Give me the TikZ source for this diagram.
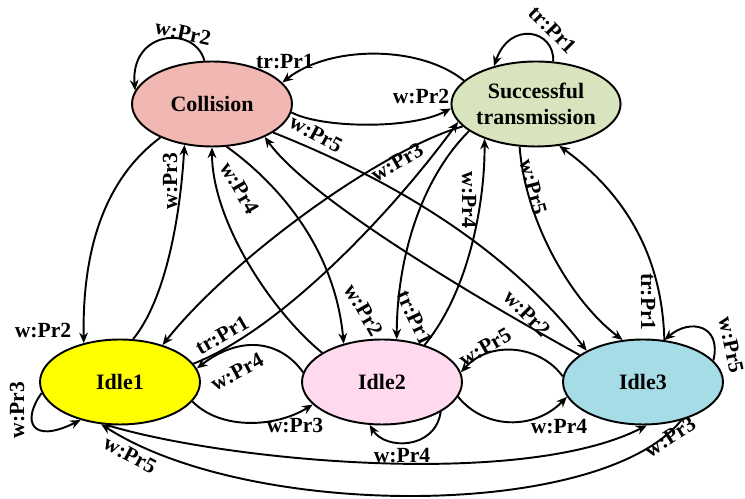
\documentclass[tikz,border=0pt]{standalone}
\usepackage{fontspec}
\setmainfont{Liberation Serif}
\usepackage{xcolor}
\definecolor{State-red}{RGB}{241, 184, 179}
\definecolor{State-green}{RGB}{215, 228, 189}
\definecolor{State-yellow}{RGB}{255, 255, 0}
\definecolor{State-pink}{RGB}{255, 218, 238}
\definecolor{State-blue}{RGB}{165, 220, 230}
\usetikzlibrary{arrows.meta,shapes.geometric}

\begin{document}
\begin{tikzpicture} [
    x=0.02cm, y=-0.02cm, line width=1.1pt, >={Stealth[length=6pt,width=5pt]},
    font=\fontsize{12.3}{14}\selectfont\bfseries,
    state/.style = {ellipse,draw=black,minimum width=3.2cm,minimum height=1.7cm,inner sep=0pt,align=center,font=\fontsize{12.5}{14.5}\selectfont\bfseries},
    lbl/.style = {inner sep=0pt}
    ]

    \useasboundingbox (0,0) rectangle (745,499);

    \def \xarray{{120, 382, 643}}
    \def \yarray{{104, 382}}

    \node (col) [state,fill=State-red] at (212, \yarray[0]) {Collision};
    \node (suc) [state,fill=State-green] at (536, \yarray[0]) {Successful\\transmission};

    \node (i1) [state,fill=State-yellow] at (\xarray[0], \yarray[1]) {Idle1};
    \node (i2) [state,fill=State-pink] at (\xarray[1], \yarray[1]) {Idle2};
    \node (i3) [state,fill=State-blue] at (\xarray[2], \yarray[1]) {Idle3};

    \draw[->] (col.100) .. controls (195,25) and (130,30) .. (col.170);
    \draw[->] (suc.162) .. controls (420,45) and (330,45) .. (col.17);
    \draw[->] (col.-6) .. controls (320,128) and (410,130) .. (suc.183);
    \draw[->] (suc.68) .. controls (555,30) and (510,20) .. (suc.138);

    \draw[->] (col.213) .. controls (110,175) and (82,240) .. (i1.133);
    \draw[->] (i1.73) .. controls (165,300) and (180,220) .. (col.-124);
    \draw[->] (i2.154) .. controls (270,310) and (212,220) .. (col.-90);
    \draw[->] (col.-71) .. controls (280,185) and (335,250) .. (i2.135);
    \draw[->] (i3.157) .. controls (480,300) and (310,200) .. (col.-32);
    \draw[->] (col.-25) .. controls (380,175) and (500,240) .. (i3.151);

    \draw[->] (suc.197) .. controls (380,150) and (230,260) .. (i1.41);
    \draw[->] (i1.14) .. controls (280,330) and (390,215) .. (suc.193);
    \draw[->] (suc.202) .. controls (420,180) and (397,260) .. (i2.71);
    \draw[->] (i2.41) .. controls (470,290) and (485,200) .. (suc.214);
    \draw[->] (suc.-111) .. controls (525,220) and (570,300) .. (i3.116);
    \draw[->] (i3.63) .. controls (662,250) and (620,190) .. (suc.-61);

    \draw[->] (i1.188) .. controls (22,420) and (30,445) .. (i1.224);
    \draw[->] (i2.173) .. controls (280,340) and (240,335) .. (i1.10);
    \draw[->] (i1.-15) .. controls (220,430) and (275,428) .. (i2.198);
    \draw[->] (i3.176) .. controls (540,345) and (490,340) .. (i2.7);
    \draw[->] (i2.-11) .. controls (485,430) and (535,430) .. (i3.191);
    \draw[->] (i2.-27) .. controls (435,450) and (385,450) .. (i2.-106);
    \draw[->] (i3.17) .. controls (722,325) and (690,318) .. (i3.63);
    \draw[->] (i1.-108) .. controls (220,460) and (520,490) .. (i3.-85);
    \draw[->] (i3.-45) .. controls (600,520) and (250,520) .. (i1.-114);

    \node (l1) [lbl,rotate=-12] at (183,33) {w:Pr2};
    \node (l2) [lbl] at (285,62) {tr:Pr1};
    \node (l3) [lbl] at (421,97) {w:Pr2};
    \node (l4) [lbl,rotate=-45] at (553,30) {tr:Pr1};
    \node (l5) [lbl] at (43,331) {w:Pr2};
    \node (l6) [lbl,rotate=90] at (170,181) {w:Pr3};
    \node (l7) [lbl,rotate=-60] at (240,188) {w:Pr4};
    \node (l8) [lbl,rotate=-60] at (364,310) {w:Pr2};
    \node (l9) [lbl,rotate=-28] at (316,134) {w:Pr5};
    \node (l10) [lbl,rotate=-45] at (527,313) {w:Pr2};
    \node (l11) [lbl,rotate=30] at (397,162) {w:Pr3};
    \node (l12) [lbl,rotate=30] at (222,335) {tr:Pr1};
    \node (l13) [lbl,rotate=-65] at (415,318) {tr:Pr1};
    \node (l14) [lbl,rotate=-90] at (469,200) {w:Pr4};
    \node (l15) [lbl,rotate=-75] at (533,187) {w:Pr5};
    \node (l16) [lbl,rotate=-90] at (648,302) {tr:Pr1};
    \node (l17) [lbl,rotate=90] at (17,410) {w:Pr3};
    \node (l18) [lbl,rotate=28] at (237,372) {w:Pr4};
    \node (l19) [lbl] at (295,426) {w:Pr3};
    \node (l20) [lbl,rotate=30] at (485,347) {w:Pr5};
    \node (l21) [lbl] at (559,427) {w:Pr4};
    \node (l22) [lbl] at (402,456) {w:Pr4};
    \node (l23) [lbl,rotate=-78] at (731,345) {w:Pr5};
    \node (l24) [lbl,rotate=33] at (670,437) {w:Pr3};
    \node (l25) [lbl,rotate=-28] at (130,455) {w:Pr5};

\end{tikzpicture}
\end{document}
